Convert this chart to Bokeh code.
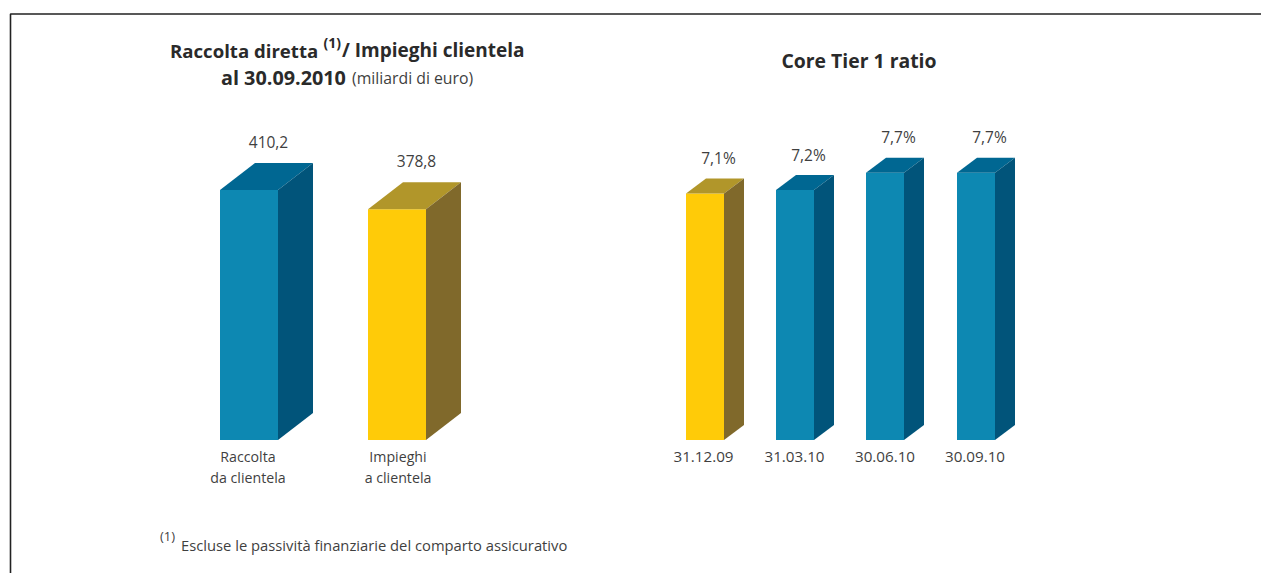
from bokeh.plotting import figure
from bokeh.models import Range1d
from bokeh.core.properties import value
from bokeh.embed import file_html
from bokeh.resources import INLINE

# --- data ---
left_labels = [["Raccolta", "da clientela"], ["Impieghi", "a clientela"]]
left_values = [410.2, 378.8]
left_value_text = ["410,2", "378,8"]
right_dates = ["31.12.09", "31.03.10", "30.06.10", "30.09.10"]
right_values = [7.1, 7.2, 7.7, 7.7]
right_value_text = ["7,1%", "7,2%", "7,7%", "7,7%"]

BLUE = ("#0d88b2", "#006792", "#01547a")
GOLD = ("#ffcb08", "#b1962a", "#80692b")
left_colors = [BLUE, GOLD]
right_colors = [GOLD, BLUE, BLUE, BLUE]

# --- layout ---
FONT = "Open Sans"
INK = "#3f3f3f"
TITLE_INK = "#2a2a2a"
PAGE_L, PAGE_T, PAGE_R, PAGE_B = 0, 0, 1261, 573
BASE = 439.6
L_SCALE = 250 / 410.2   # px per unit
R_SCALE = 250 / 7.2

def yrange(scale):
    return Range1d((BASE - PAGE_B) / scale, (BASE - PAGE_T) / scale)

p = figure(width=PAGE_R - PAGE_L, height=PAGE_B - PAGE_T, output_backend="svg",
           toolbar_location=None, min_border=0,
           x_range=Range1d(PAGE_L, PAGE_R), y_range=Range1d(PAGE_B, PAGE_T))
p.axis.visible = False
p.grid.visible = False
p.outline_line_color = None
p.extra_y_ranges = {"left": yrange(L_SCALE), "right": yrange(R_SCALE)}


def txt(x, y, s, size, bold=False, align="left", color=INK):
    p.text([x], [y], text=[s], text_font=value(FONT), text_font_size=f"{size}px",
           text_font_style="bold" if bold else "normal", text_align=align,
           text_baseline="middle", text_color=color)


def bars(name, scale, x0s, w, dx, dy, vals, cols, labels, lab_dx, lab_dy):
    d = dy / scale
    for x, v, c, lab in zip(x0s, vals, cols, labels):
        p.quad(left=[x], right=[x + w], bottom=[0], top=[v], fill_color=c[0],
               line_color=None, y_range_name=name)
        p.patch([x, x + dx, x + w + dx, x + w], [v, v + d, v + d, v], fill_color=c[1],
                line_color=None, y_range_name=name)
        p.patch([x + w, x + w + dx, x + w + dx, x + w], [0, d, v + d, v], fill_color=c[2],
                line_color=None, y_range_name=name)
        p.text([x + lab_dx], [v + d], text=[lab], text_font=value(FONT),
               text_font_size="15.5px", text_align="center", text_baseline="middle",
               text_color=INK, y_offset=lab_dy, y_range_name=name)


# frame lines
p.line([10, 10, 1261], [573, 13.5, 13.5], line_color="#222222", line_width=1.6)

bars("left", L_SCALE, [219.5, 367.5], 58, 35, 27, left_values, left_colors, left_value_text, 48.5, -21.5)
bars("right", R_SCALE, [685.5, 775.5, 865.5, 956.5], 38, 20, 15, right_values, right_colors, right_value_text, 32.5, -20.5)

# titles
txt(169.5, 49.5, "Raccolta diretta", 18.6, True, color=TITLE_INK)
txt(323, 41.5, "(1)", 14, True, color=TITLE_INK)
txt(341.5, 49.5, "/ Impieghi clientela", 19, True, color=TITLE_INK)
txt(220.5, 76.5, "al 30.09.2010", 19.8, True, color=TITLE_INK)
txt(351.5, 77, "(miliardi di euro)", 15.8)
txt(858.5, 59.5, "Core Tier 1 ratio", 19.4, True, "center", color=TITLE_INK)

# category labels
for cx, (a, b) in zip([247.5, 397.5], left_labels):
    txt(cx, 456, a, 14.2, align="center")
    txt(cx, 476.5, b, 14.2, align="center")
for cx, d in zip([703, 794, 884.5, 974.5], right_dates):
    txt(cx, 456, d, 15.2, align="center")

# footnote
txt(159.5, 535.5, "(1)", 13)
txt(180.5, 544, "Escluse le passività finanziarie del comparto assicurativo", 14.75)

open("out.html", "w").write(file_html(p, INLINE))
